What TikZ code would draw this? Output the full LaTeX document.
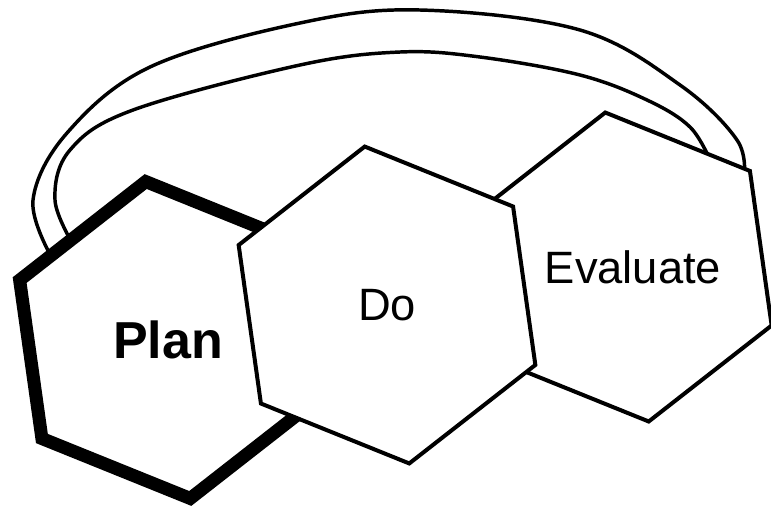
\documentclass[tikz,border=0pt]{standalone}
\usepackage{fontspec}
\setmainfont{Liberation Sans}
\usetikzlibrary{shapes.geometric}
\tikzset{
  hexbox/.style={regular polygon,regular polygon sides=6,shape border rotate=38,
              draw=black,fill=white,line width=3pt,inner sep=0pt,
              font=\fontsize{34}{40}\selectfont},
  planbox/.style={hexbox,line width=9.75pt,font=\fontsize{39}{46}\selectfont\bfseries},
  loopline/.style={line width=2.6pt,line cap=round}
}
\begin{document}
\begin{tikzpicture}[x=0.75pt,y=-0.75pt]
  \useasboundingbox (0,0) rectangle (771,512);
  % the loop, drawn first so the hexagons hide its ends
  \draw[loopline] plot[smooth,tension=0.6] coordinates {(52,258) (33,200) (67,133)
    (150,67) (300,23) (420,10) (580,30) (680,85) (737,140) (744,178)};
  \draw[loopline] plot[smooth,tension=0.6] coordinates {(74,246) (55,200) (70,150)
    (133,110) (300,65) (400,52) (480,57) (580,75) (647,100) (690,127) (711,162)};
  \node[hexbox,minimum size=234pt] (evaluate) at (627,267) {\hspace*{9pt}Evaluate};
  \node[planbox,minimum size=240pt] (plan) at (168,340) {Plan};
  \node[hexbox,minimum size=240pt] (do) at (387,305) {Do};
\end{tikzpicture}
\end{document}
